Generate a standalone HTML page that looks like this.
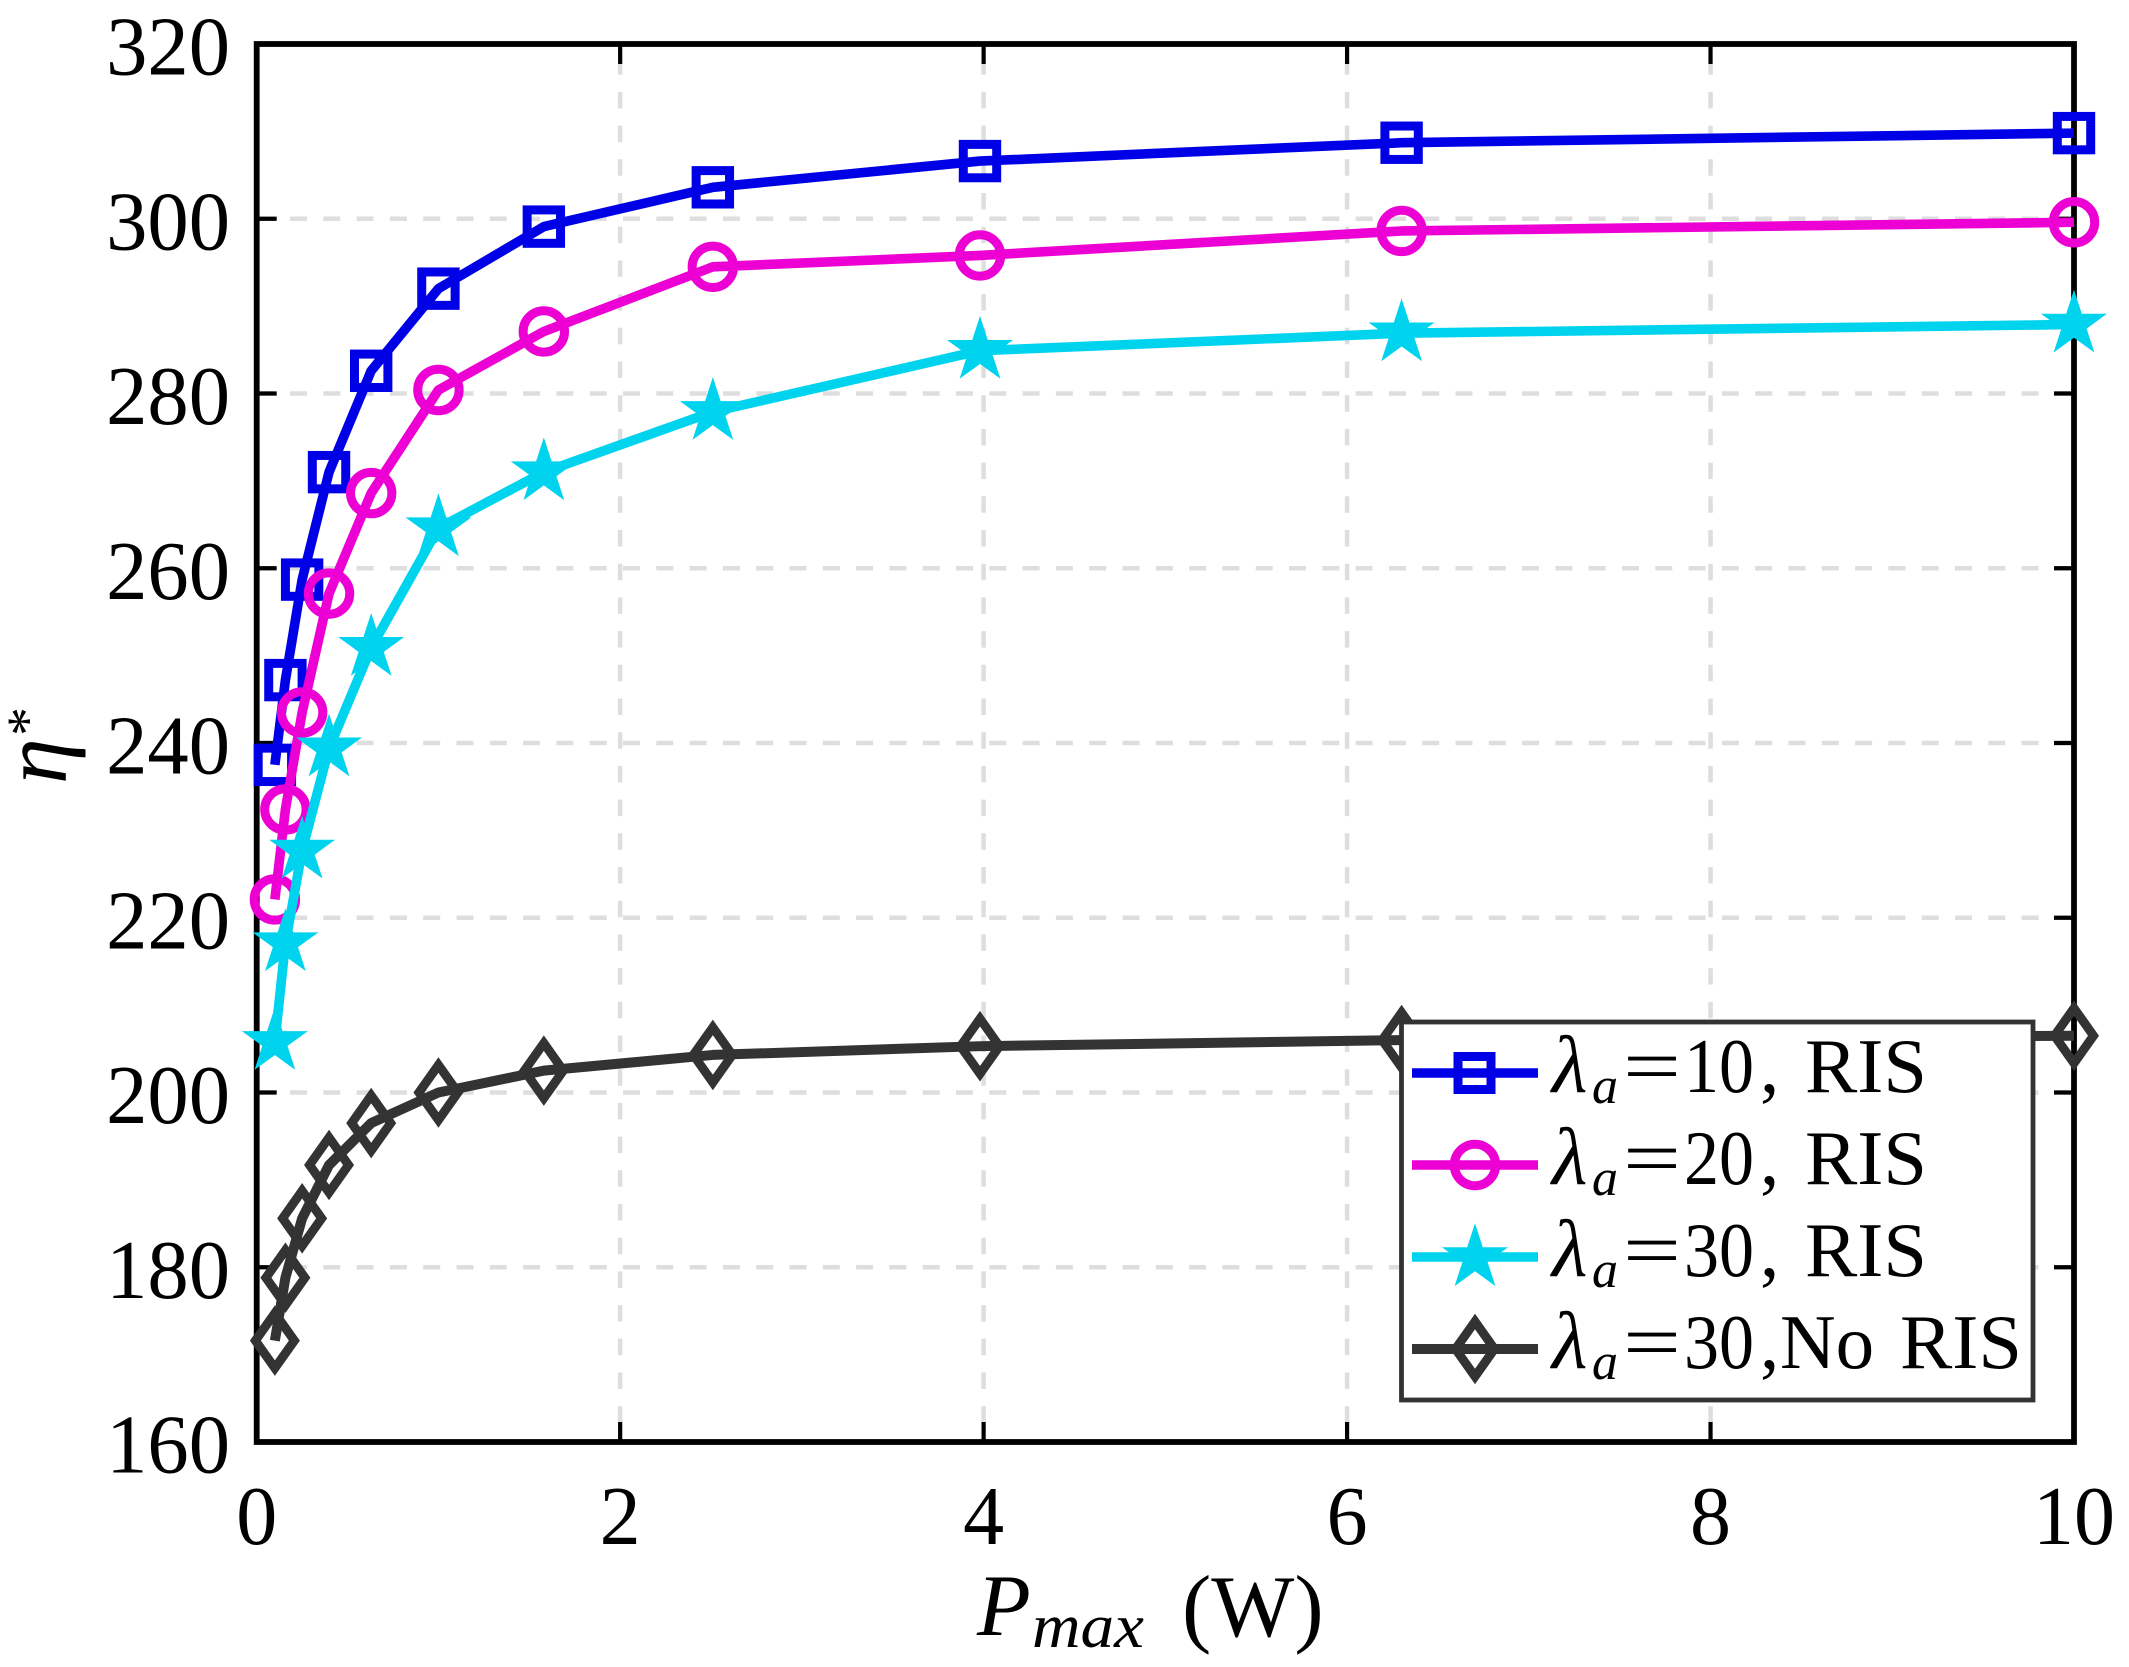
<!DOCTYPE html>
<html lang="en">
<head>
<meta charset="utf-8">
<title>Chart</title>
<style>
html,body{margin:0;padding:0;background:#fff;}
svg{display:block;}
text{font-family:"Liberation Serif","DejaVu Serif",serif;fill:#000;}
.it{font-style:italic;}
</style>
</head>
<body>
<svg id="chart" xmlns="http://www.w3.org/2000/svg" width="2129" height="1667" viewBox="0 0 2129 1667">
  <rect x="0" y="0" width="2129" height="1667" fill="#fff"/>
  <g id="grid"></g>
  <g id="axes"></g>
  <g id="series"></g>

  <text>
    <tspan class="it" x="977" y="1635" font-size="88">P</tspan>
    <tspan class="it" x="1032" y="1647" font-size="62" textLength="112" lengthAdjust="spacingAndGlyphs">max</tspan>
    <tspan x="1182" y="1636" font-size="88">(W)</tspan>
  </text>
  <g transform="translate(66,784) rotate(-90)">
    <text class="it" x="0" y="0" font-size="92">η</text>
    <text x="48" y="-19" font-size="58">*</text>
  </g>

  <g>
    <rect x="1401.5" y="1022" width="631.5" height="378" fill="#fff" stroke="#333" stroke-width="4.8"/>

    <g>
      <line x1="1412" x2="1538" y1="1073" y2="1073" stroke="#0000e6" stroke-width="9.4"/>
      <rect x="1458" y="1056.5" width="33" height="33" fill="none" stroke="#0000e6" stroke-width="9"/>
      <text font-size="77">
        <tspan class="it" x="1552" y="1092" font-size="82">λ</tspan><tspan class="it" x="1592" y="1103" font-size="52">a</tspan><tspan x="1623" y="1092" textLength="58" lengthAdjust="spacingAndGlyphs">=</tspan><tspan x="1684" y="1092" textLength="70" lengthAdjust="spacingAndGlyphs">10</tspan><tspan x="1760" y="1092">,</tspan><tspan x="1805" y="1092" textLength="122" lengthAdjust="spacingAndGlyphs">RIS</tspan>
      </text>
    </g>

    <g>
      <line x1="1412" x2="1538" y1="1165" y2="1165" stroke="#ec00d3" stroke-width="9.4"/>
      <circle cx="1475" cy="1165" r="20.7" fill="none" stroke="#ec00d3" stroke-width="9"/>
      <text font-size="77">
        <tspan class="it" x="1552" y="1184" font-size="82">λ</tspan><tspan class="it" x="1592" y="1195" font-size="52">a</tspan><tspan x="1623" y="1184" textLength="58" lengthAdjust="spacingAndGlyphs">=</tspan><tspan x="1684" y="1184" textLength="70" lengthAdjust="spacingAndGlyphs">20</tspan><tspan x="1760" y="1184">,</tspan><tspan x="1805" y="1184" textLength="122" lengthAdjust="spacingAndGlyphs">RIS</tspan>
      </text>
    </g>

    <g>
      <line x1="1412" x2="1538" y1="1257" y2="1257" stroke="#00d3ee" stroke-width="9.4"/>
      <polygon id="legend-star" fill="#00d3ee"/>
      <text font-size="77">
        <tspan class="it" x="1552" y="1276" font-size="82">λ</tspan><tspan class="it" x="1592" y="1287" font-size="52">a</tspan><tspan x="1623" y="1276" textLength="58" lengthAdjust="spacingAndGlyphs">=</tspan><tspan x="1684" y="1276" textLength="70" lengthAdjust="spacingAndGlyphs">30</tspan><tspan x="1760" y="1276">,</tspan><tspan x="1805" y="1276" textLength="122" lengthAdjust="spacingAndGlyphs">RIS</tspan>
      </text>
    </g>

    <g>
      <line x1="1412" x2="1538" y1="1349" y2="1349" stroke="#333" stroke-width="10"/>
      <polygon points="1475,1321.5 1494.5,1349 1475,1376.5 1455.5,1349" fill="none" stroke="#333" stroke-width="9" stroke-miterlimit="10"/>
      <text font-size="77">
        <tspan class="it" x="1552" y="1368" font-size="82">λ</tspan><tspan class="it" x="1592" y="1379" font-size="52">a</tspan><tspan x="1623" y="1368" textLength="58" lengthAdjust="spacingAndGlyphs">=</tspan><tspan x="1684" y="1368" textLength="70" lengthAdjust="spacingAndGlyphs">30</tspan><tspan x="1760" y="1368">,</tspan><tspan x="1780" y="1368">No</tspan><tspan x="1900" y="1368" textLength="122" lengthAdjust="spacingAndGlyphs">RIS</tspan>
      </text>
    </g>
  </g>
</svg>

<script>
// ---- chart data ----
const pmaxValues = [0.1, 0.158, 0.25, 0.398, 0.63, 1, 1.58, 2.51, 3.98, 6.3, 10];
const lambda10Ris = [237.5, 247.2, 258.7, 271, 282.6, 292, 299.1, 303.6, 306.6, 308.7, 309.8];
const lambda20Ris = [222.1, 232.4, 243.5, 257.1, 268.6, 280.4, 287.1, 294.5, 295.8, 298.6, 299.6];
const lambda30Ris = [205.8, 217.1, 227.7, 239.4, 250.9, 264.6, 271, 277.9, 284.9, 286.9, 287.9];
const lambda30NoRis = [171.6, 178.8, 185.6, 191.7, 196.5, 200, 202.5, 204.3, 205.3, 206, 206.5];
const xTickValues = [0, 2, 4, 6, 8, 10];
const yTickValues = [160, 180, 200, 220, 240, 260, 280, 300, 320];

// ---- axis functions ----
const plotLeft = 256.7, plotRight = 2074, plotTop = 44, plotBottom = 1442;
const xMin = 0, xMax = 10, yMin = 160, yMax = 320;
function xScale(v) { return plotLeft + (v - xMin) / (xMax - xMin) * (plotRight - plotLeft); }
function yScale(v) { return plotBottom - (v - yMin) / (yMax - yMin) * (plotBottom - plotTop); }

const NS = 'http://www.w3.org/2000/svg';
function make(tag, attrs, parent) {
  const el = document.createElementNS(NS, tag);
  for (const k in attrs) el.setAttribute(k, attrs[k]);
  parent.appendChild(el);
  return el;
}
function starPoints(cx, cy, R) {
  const r = R * 0.382, pts = [];
  for (let i = 0; i < 10; i++) {
    const rad = i % 2 === 0 ? R : r;
    const a = -Math.PI / 2 + i * Math.PI / 5;
    pts.push((cx + rad * Math.cos(a)).toFixed(2) + ',' + (cy + rad * Math.sin(a)).toFixed(2));
  }
  return pts.join(' ');
}

const gridG = document.getElementById('grid');
const axesG = document.getElementById('axes');
const seriesG = document.getElementById('series');
const gridColor = '#dedede';

// grid
xTickValues.forEach(function (t) {
  if (t === xMin || t === xMax) return;
  const l = make('line', { x1: xScale(t), x2: xScale(t), y1: plotTop, y2: plotBottom, stroke: gridColor, 'stroke-width': 4.5, 'stroke-dasharray': '16.5 17.2', 'stroke-dashoffset': 19.5 }, gridG);
  
  
});
yTickValues.forEach(function (t) {
  if (t === yMin || t === yMax) return;
  const l = make('line', { x1: plotLeft, x2: plotRight, y1: yScale(t), y2: yScale(t), stroke: gridColor, 'stroke-width': 4.5, 'stroke-dasharray': '17 16.3' }, gridG);
  
  
});

// axes box
const box = make('rect', { x: plotLeft, y: plotTop, width: plotRight - plotLeft, height: plotBottom - plotTop, fill: 'none', stroke: '#000', 'stroke-width': 5.8 }, axesG);



// ticks and tick labels
const tickLen = 20;
xTickValues.forEach(function (t) {
  const x = xScale(t);
  const a = make('line', { x1: x, x2: x, y1: plotBottom, y2: plotBottom - tickLen, stroke: '#000', 'stroke-width': 4.2 }, axesG);
  
  
  const b = make('line', { x1: x, x2: x, y1: plotTop, y2: plotTop + tickLen, stroke: '#000', 'stroke-width': 4.2 }, axesG);
  
  
  const s = String(t);
  const lab = make('text', { x: x, y: 1544, 'font-size': 84, 'text-anchor': 'middle', textLength: s.length * 41, lengthAdjust: 'spacingAndGlyphs' }, axesG);
  lab.textContent = s;
  
  
});
yTickValues.forEach(function (t) {
  const y = yScale(t);
  const a = make('line', { x1: plotLeft, x2: plotLeft + tickLen, y1: y, y2: y, stroke: '#000', 'stroke-width': 4.2 }, axesG);
  
  
  const b = make('line', { x1: plotRight, x2: plotRight - tickLen, y1: y, y2: y, stroke: '#000', 'stroke-width': 4.2 }, axesG);
  
  
  const s = String(t);
  const lab = make('text', { x: 230, y: y + 30.5, 'font-size': 84, 'text-anchor': 'end', textLength: s.length * 41.3, lengthAdjust: 'spacingAndGlyphs' }, axesG);
  lab.textContent = s;
  
  
});

// series
function drawSeries(name, values, color, width, marker) {
  const g = make('g', {}, seriesG);
  
  
  const pts = pmaxValues.map(function (p, i) { return xScale(p).toFixed(2) + ',' + yScale(values[i]).toFixed(2); }).join(' ');
  const line = make('polyline', { points: pts, fill: 'none', stroke: color, 'stroke-width': width, 'stroke-linejoin': 'round', 'stroke-linecap': 'butt' }, g);
  
  
  pmaxValues.forEach(function (p, i) {
    const cx = xScale(p), cy = yScale(values[i]);
    let m;
    if (marker === 'square') {
      m = make('rect', { x: cx - 16.7, y: cy - 16.7, width: 33.4, height: 33.4, fill: 'none', stroke: color, 'stroke-width': 9 }, g);
    } else if (marker === 'circle') {
      m = make('circle', { cx: cx, cy: cy, r: 20.7, fill: 'none', stroke: color, 'stroke-width': 9 }, g);
    } else if (marker === 'star') {
      m = make('polygon', { points: starPoints(cx, cy, 34.7), fill: color }, g);
    } else {
      m = make('polygon', { points: cx + ',' + (cy - 27.5) + ' ' + (cx + 19.5) + ',' + cy + ' ' + cx + ',' + (cy + 27.5) + ' ' + (cx - 19.5) + ',' + cy, fill: 'none', stroke: color, 'stroke-width': 9, 'stroke-miterlimit': 10 }, g);
    }
    
    
  });
}
drawSeries('series-lambda-10-ris', lambda10Ris, '#0000e6', 9.6, 'square');
drawSeries('series-lambda-20-ris', lambda20Ris, '#ec00d3', 9.6, 'circle');
drawSeries('series-lambda-30-ris', lambda30Ris, '#00d3ee', 9.6, 'star');
drawSeries('series-lambda-30-no-ris', lambda30NoRis, '#333333', 10, 'diamond');

document.getElementById('legend-star').setAttribute('points', starPoints(1475, 1258, 34.7));
</script>
</body>
</html>
